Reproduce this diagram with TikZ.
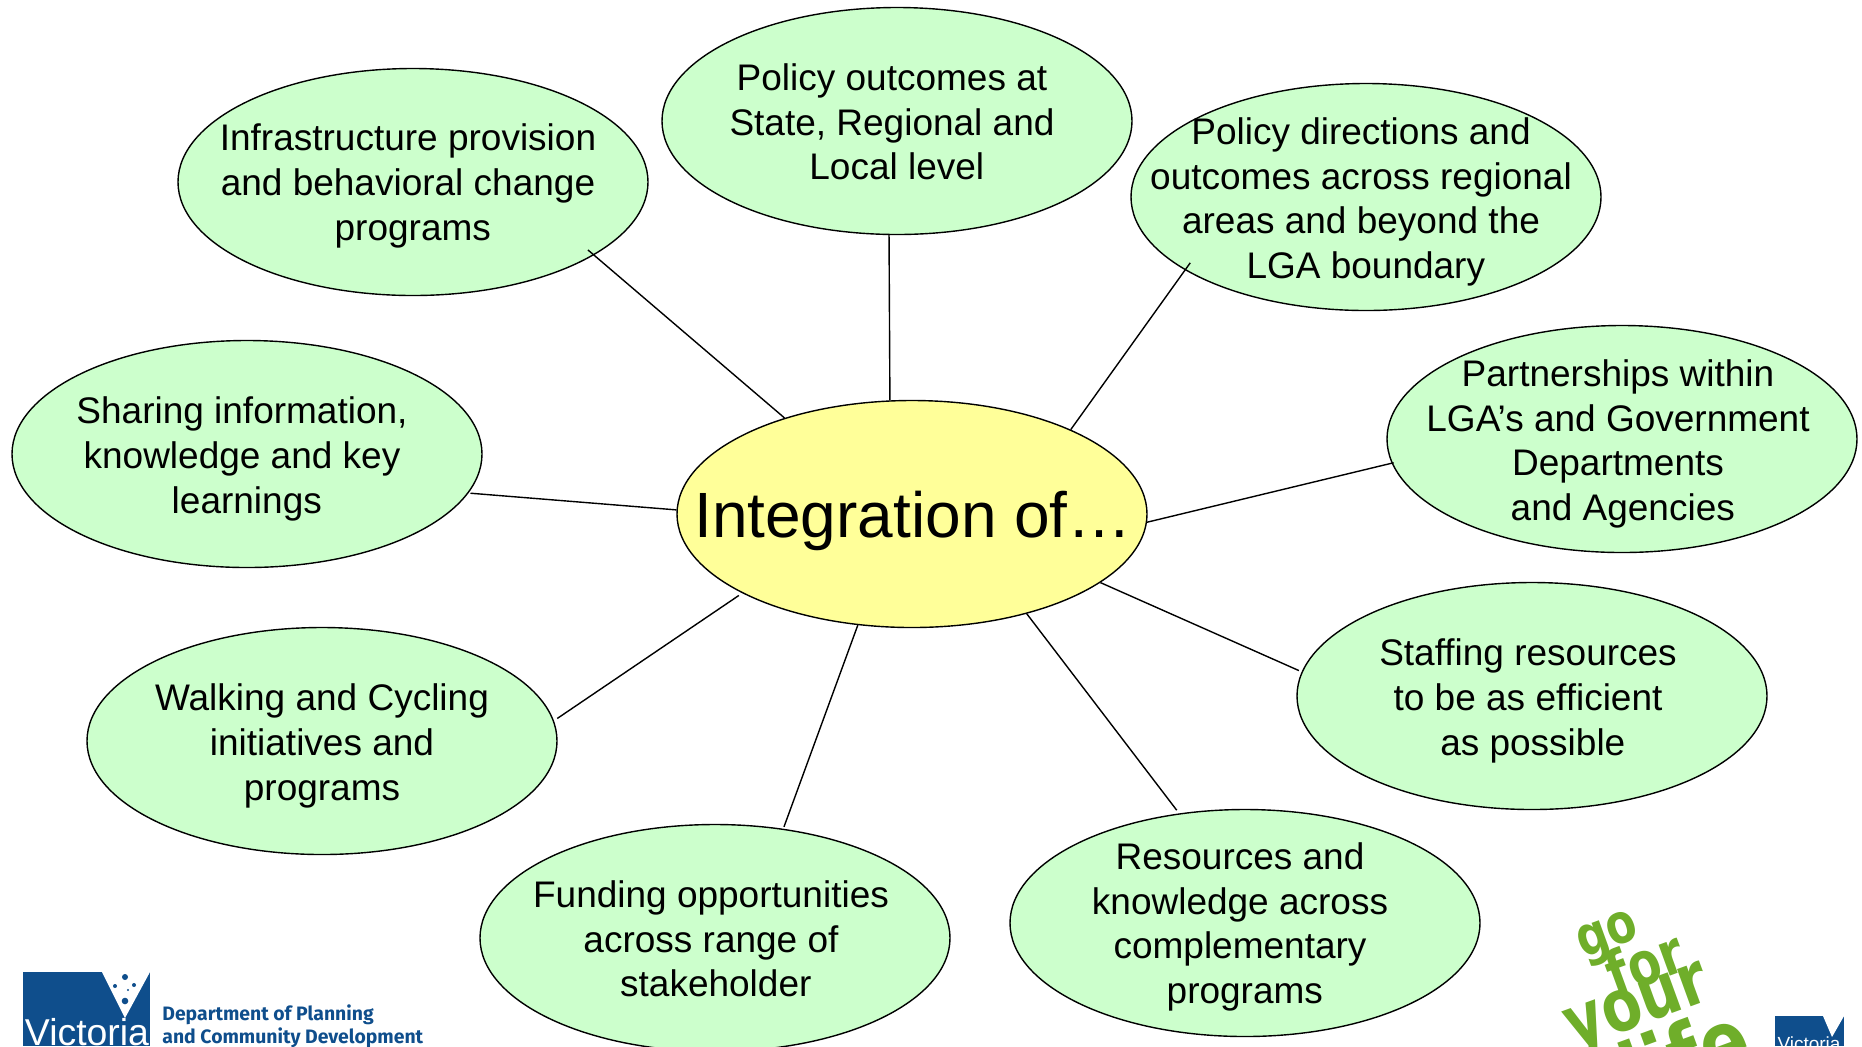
\documentclass[tikz,border=0pt]{standalone}
\usepackage{fontspec}
\setmainfont{Liberation Sans}
\newfontfamily\logofont{Fira Sans}
\newfontfamily\lifefont{DejaVu Sans}
\definecolor{bubblegreen}{HTML}{CCFFCC}
\definecolor{hubyellow}{HTML}{FFFF99}
\definecolor{vicblue}{HTML}{0F4E8C}
\definecolor{lifegreen}{HTML}{6FAE2A}
\usetikzlibrary{shapes.geometric}
\newcommand{\nudge}{\hspace*{4.8pt}}
\newcommand{\lifeword}[2]{\scalebox{1}[1.25]{\fontsize{#1}{#1}\selectfont #2}}
\tikzset{
    bubble/.style={ellipse,draw=black,line width=0.7pt,fill=bubblegreen,inner sep=0pt,
        minimum width=235pt,minimum height=113.5pt},
    hub/.style={bubble,fill=hubyellow},
    bubbletext/.style={align=center,inner sep=0pt,font=\fontsize{18.5}{22.3}\selectfont},
    spoke/.style={line width=0.7pt,black},
    lifetext/.style={inner sep=0pt,anchor=base,text=lifegreen,rotate=20,font=\lifefont\bfseries},
    logotext/.style={inner sep=0pt,anchor=base west,text=vicblue,font=\logofont\bfseries\fontsize{9.7}{9.7}\selectfont}
}
\begin{document}
\begin{tikzpicture}[x=0.5pt,y=-0.5pt]
    \path[use as bounding box,clip] (0,0) rectangle (1862,1046);

    % Bubbles
    \node[bubble] (infra) at (413,182) {};
    \node[bubble] (policy) at (897,121) {};
    \node[bubble] (directions) at (1366,197) {};
    \node[bubble] (partners) at (1622,439) {};
    \node[bubble] (staffing) at (1532,696) {};
    \node[bubble] (resources) at (1245,923) {};
    \node[bubble] (funding) at (715,938) {};
    \node[bubble] (walking) at (322,741) {};
    \node[bubble] (sharing) at (247,454) {};
    \node[hub] (hub) at (912,514) {};

    % Bubble texts
    \node[bubbletext] (infratext) at (408,186) {Infrastructure provision\\and behavioral change\\\nudge programs};
    \node[bubbletext] (policytext) at (892,122) {Policy outcomes at\\State, Regional and\\\nudge Local level};
    \node[bubbletext] (directionstext) at (1361,202) {Policy directions and\\outcomes across regional\\areas and beyond the\\\nudge LGA boundary};
    \node[bubbletext] (partnerstext) at (1618,444) {Partnerships within\\LGA’s and Government\\Departments\\\nudge and Agencies};
    \node[bubbletext] (staffingtext) at (1528,701) {Staffing resources\\to be as efficient\\\nudge as possible};
    \node[bubbletext] (resourcestext) at (1240,927) {Resources and\\knowledge across\\complementary\\\nudge programs};
    \node[bubbletext] (fundingtext) at (711,939) {Funding opportunities\\across range of\\\nudge stakeholder};
    \node[bubbletext] (walkingtext) at (322,746) {Walking and Cycling\\initiatives and\\programs};
    \node[bubbletext] (sharingtext) at (242,459) {Sharing information,\\knowledge and key\\\nudge learnings};
    \node[bubbletext,font=\fontsize{32}{38}\selectfont] (hubtext) at (913,521) {Integration of…};

    % Spokes
    \draw[spoke,shorten <=-4pt] (infra.-22.1) -- (hub.143.3);
    \draw[spoke] (policy.-94.2) -- (hub.101.5);
    \draw[spoke,shorten <=-4.5pt] (directions.202.5) -- (hub.28.3);
    \draw[spoke,shorten <=-1pt] (partners.186.3) -- (hub.-2.6);
    \draw[spoke,shorten <=1.5pt] (staffing.174.5) -- (hub.-20);
    \draw[spoke,shorten <=2pt] (resources.121) -- (hub.-41.2);
    \draw[spoke,shorten <=1pt] (funding.58.6) -- (hub.244.7);
    \draw[spoke,shorten <=2pt,shorten >=2pt] (walking.5.8) -- (hub.205.6);
    \draw[spoke,shorten <=1pt] (sharing.-10.3) -- (hub.179.5);

    % Victoria logo, left
    \fill[vicblue] (23,972) rectangle (150,1046);
    \fill[white] (102,972) -- (125,1018) -- (150,972) -- cycle;
    \foreach \dotx/\doty/\dotr in {125/977/3,115/986/2,134/985/2,128/990/1.2,125/1001/3.3}
        \fill[vicblue] (\dotx,\doty) circle (\dotr);
    \node[inner sep=0pt,anchor=base,text=white,font=\fontsize{18.7}{18.7}\selectfont] (vicleft) at (87,1045) {Victoria};
    \node[logotext] (deptline) at (162,1020) {Department of Planning};
    \node[logotext] (commline) at (162,1043) {and Community Development};

    % Go for your life logo
    \node[lifetext] (lifego) at (1612,948) {\lifeword{22}{go}};
    \node[lifetext] (lifefor) at (1652,983) {\lifeword{24}{for}};
    \node[lifetext] (lifeyour) at (1644,1024) {\lifeword{29}{your}};
    \node[lifetext] (lifelife) at (1696,1087) {\lifeword{36}{life}};

    % Victoria logo, right
    \fill[vicblue] (1775,1016) rectangle (1844,1046);
    \fill[white] (1823,1016) -- (1832,1037) -- (1844,1016) -- cycle;
    \node[inner sep=0pt,anchor=base,text=white,font=\fontsize{9.5}{9.5}\selectfont] (vicright) at (1809,1050) {Victoria};
\end{tikzpicture}
\end{document}
